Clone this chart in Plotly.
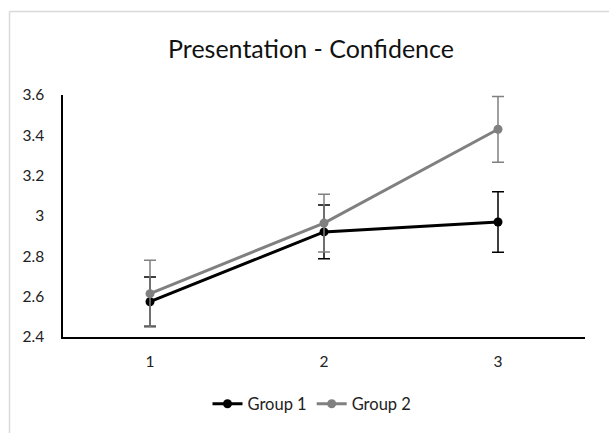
import plotly.graph_objects as go

# Mean confidence ratings per presentation, with error margins
sessions = [1, 2, 3]
group1_mean = [2.575, 2.921, 2.970]
group1_err = [0.122, 0.133, 0.150]
group2_mean = [2.615, 2.965, 3.430]
group2_err = [0.165, 0.143, 0.163]

y_ticks = [2.4, 2.6, 2.8, 3.0, 3.2, 3.4, 3.6]
y_tick_text = ["2.4", "2.6", "2.8", "3", "3.2", "3.4", "3.6"]

BLACK = "#000000"
GREY = "#808080"
FONT = "Lato, 'Open Sans', sans-serif"

fig = go.Figure()

fig.add_trace(go.Scatter(
    x=sessions, y=group1_mean, name="Group 1", mode="lines+markers",
    line=dict(color=BLACK, width=3),
    marker=dict(color=BLACK, size=9),
    error_y=dict(type="data", array=group1_err, visible=True,
                 color=BLACK, thickness=1.5, width=6),
))
fig.add_trace(go.Scatter(
    x=sessions, y=group2_mean, name="Group 2", mode="lines+markers",
    line=dict(color=GREY, width=3),
    marker=dict(color=GREY, size=9),
    error_y=dict(type="data", array=group2_err, visible=True,
                 color=GREY, thickness=1.5, width=6),
))

# Plot area: left edge 63px, right edge 585px, top 95px, bottom 337px
W, H = 609, 433
L, R, T, B = 63, 585, 95, 337
pw, ph = R - L, B - T

def px_x(p):
    return (p - L) / pw

def px_y(p):
    return (B - p) / ph

fig.update_layout(
    width=W, height=H,
    margin=dict(l=L, r=W - R, t=T, b=H - B, pad=0),
    paper_bgcolor="white", plot_bgcolor="white",
    font=dict(family=FONT, color="#222222"),
    title=dict(text="Presentation - Confidence",
               x=311 / W, xanchor="center",
               y=1 - 49 / H, yanchor="middle",
               font=dict(size=25, color="#111111", family=FONT)),
    xaxis=dict(
        range=[0.5, 3.5], tickvals=sessions, ticktext=[str(s) for s in sessions],
        showgrid=False, zeroline=False, showline=True,
        linecolor=BLACK, linewidth=1.5, ticks="",
        tickfont=dict(size=15.5, color="#222222"),
        ticklabelstandoff=10,
    ),
    yaxis=dict(
        range=[2.4, 3.6], tickvals=y_ticks, ticktext=y_tick_text,
        showgrid=False, zeroline=False, showline=True,
        linecolor=BLACK, linewidth=1.5, ticks="",
        tickfont=dict(size=15.5, color="#222222"),
        ticklabelstandoff=14,
    ),
    legend=dict(
        orientation="h", x=px_x(312), xanchor="center",
        y=px_y(404), yanchor="middle",
        font=dict(size=16.5, color="#222222"),
        itemwidth=30, tracegroupgap=0,
        bgcolor="rgba(0,0,0,0)",
    ),
    showlegend=True,
    shapes=[
        # light chart-area border along the left and top edges
        dict(type="line", xref="paper", yref="paper",
             x0=px_x(9.5), x1=px_x(9.5), y0=px_y(11.5), y1=px_y(H + 5),
             line=dict(color="#d9d9d9", width=1.5)),
        dict(type="line", xref="paper", yref="paper",
             x0=px_x(9.5), x1=px_x(W + 5), y0=px_y(11.5), y1=px_y(11.5),
             line=dict(color="#d9d9d9", width=1.5)),
    ],
)

fig.write_html("out.html")
